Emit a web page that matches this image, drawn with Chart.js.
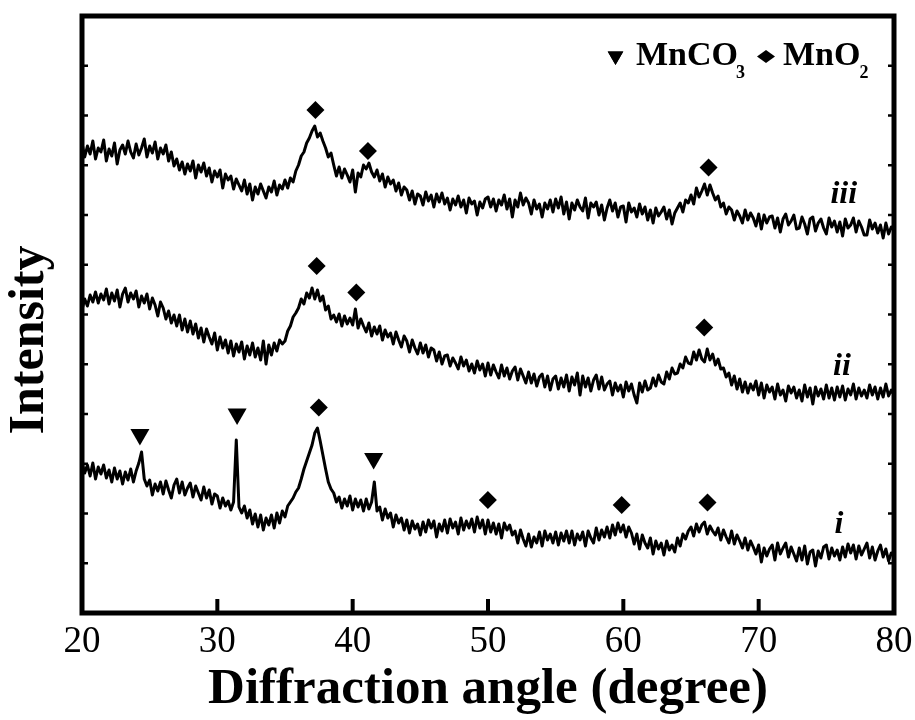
<!DOCTYPE html>
<html>
<head>
<meta charset="utf-8">
<script src="https://cdn.jsdelivr.net/npm/chart.js@4.4.1/dist/chart.umd.min.js"></script>
<style>
  html, body { margin: 0; padding: 0; background: #fff; }
  #wrap { width: 915px; height: 720px; }
</style>
</head>
<body>
<div id="wrap"><canvas id="xrd" width="915" height="720"></canvas></div>
<script>
// 2-theta sampling grid (degrees)
const angleStart = 20, angleStep = 0.2, angleCount = 301;
const angles = Array.from({ length: angleCount }, (_, k) => +(angleStart + k * angleStep).toFixed(1));

// sample i (bottom trace), one row per degree: .0 .2 .4 .6 .8
const intensityI = [
  302, 280, 296, 274, 300,   268, 292, 278, 296, 270,   286, 262, 290, 268, 284,   258, 282, 266, 288, 262,
  284, 300, 322, 268, 254,   266, 236, 258, 244, 262,   238, 264, 246, 230, 256,   268, 240, 262, 236, 250,
  260, 232, 254, 240, 226,   252, 230, 246, 218, 238,   234, 210, 230, 214, 224,   206, 222, 346, 212, 200,
  214, 190, 206, 178, 198,   172, 196, 166, 190, 176,   196, 170, 200, 180, 204,   192, 214, 222, 230, 242,
  250, 268, 288, 304, 320,   336, 360, 370, 344, 316,   288, 262, 248, 240, 222,   232, 210, 228, 214, 234,
  206, 228, 212, 226, 204,   228, 208, 222, 262, 204,   212, 186, 208, 190, 200,   172, 196, 180, 190, 166,
  186, 160, 184, 168, 178,   156, 182, 162, 186, 170,   184, 152, 178, 164, 186,   160, 188, 170, 182, 158,
  190, 166, 184, 170, 188,   162, 192, 170, 186, 158,   186, 162, 180, 158, 178,   150, 180, 166, 176, 156,
  164, 140, 166, 148, 134,   158, 132, 152, 140, 162,   134, 164, 146, 158, 140,   162, 136, 160, 144, 164,
  140, 164, 136, 158, 146,   162, 134, 164, 150, 140,   170, 146, 166, 152, 172,   150, 176, 156, 180, 162,
  176, 152, 172, 160, 138,   158, 128, 156, 140, 130,   150, 118, 144, 128, 140,   116, 144, 126, 136, 122,
  150, 134, 158, 148, 164,   172, 154, 178, 162, 176,   182, 158, 174, 164, 156,   170, 146, 166, 152, 140,
  164, 138, 156, 144, 130,   150, 126, 144, 132, 118,   136, 102, 130, 114, 128,   136, 106, 140, 118, 130,
  140, 112, 132, 118, 104,   130, 106, 134,  98, 122,   126,  94, 124, 110, 132,   136, 108, 130, 114, 126,
  106, 132, 112, 138, 120,   136, 108, 134, 116, 128,   140, 110, 132, 106, 124,   136, 112, 128, 104, 120,
  116
];

// sample ii (middle trace)
const intensityII = [
  606, 628, 614, 636, 622,   642, 620, 638, 626, 648,   618, 640, 624, 646, 612,   638, 650, 622, 640, 628,
  644, 612, 634, 620, 638,   608, 630, 616, 594, 622,   610, 588, 604, 580, 596,   574, 596, 566, 588, 562,
  584, 558, 578, 550, 570,   542, 568, 552, 538, 560,   526, 552, 530, 546, 520,   544, 514, 538, 522, 542,
  508, 534, 516, 540, 512,   530, 506, 544, 498, 536,   516, 540, 524, 546, 538,   544, 564, 574, 592, 600,
  610, 628, 618, 640, 630,   650, 628, 646, 624, 634,   606, 614, 588, 596, 582,   598, 574, 594, 578, 590,
  576, 608, 570, 588, 574,   562, 580, 554, 572, 558,   574, 546, 566, 552, 560,   538, 562, 546, 532, 554,
  544, 522, 546, 530, 518,   540, 520, 536, 512, 530,   526, 504, 522, 498, 514,   516, 494, 510, 500, 488,
  512, 494, 506, 484, 498,   480, 504, 486, 498, 474,   500, 476, 496, 482, 470,   496, 474, 490, 468, 484,
  492, 466, 488, 474, 460,   482, 460, 478, 454, 472,   478, 452, 474, 446, 468,   474, 448, 470, 452, 476,
  444, 472, 456, 480, 436,   474, 452, 470, 444, 466,   476, 448, 472, 446, 458,   464, 436, 460, 444, 456,
  432, 462, 444, 458, 436,   420, 460, 442, 464, 446,   450, 470, 454, 476, 462,   458, 482, 468, 490, 478,
  480, 498, 490, 512, 500,   498, 522, 506, 526, 508,   502, 528, 506, 518, 496,   508, 488, 490, 472, 480,
  456, 474, 448, 468, 442,   462, 440, 458, 446, 464,   436, 460, 430, 456, 442,   452, 428, 458, 436, 446,
  424, 454, 440, 452, 430,   446, 424, 456, 432, 450,   418, 452, 434, 448, 428,   456, 430, 450, 426, 452,
  432, 454, 426, 448, 436,   458, 428, 450, 434, 446,   430, 456, 436, 452, 428,   450, 432, 458, 434, 446,
  436
];

// sample iii (top trace)
const intensityIII = [
  940, 912, 934, 918, 944,   908, 930, 922, 946, 904,   928, 914, 940, 898, 926,   936, 918, 944, 922, 910,
  938, 916, 930, 948, 912,   934, 920, 942, 908, 930,   918, 936, 904, 922, 894,   908, 886, 902, 878, 898,
  884, 904, 870, 896, 882,   900, 874, 890, 862, 884,   872, 886, 850, 878, 866,   874, 848, 868, 856, 844,
  866, 838, 858, 826, 852,   838, 858, 844, 830, 852,   842, 864, 836, 856, 848,   866, 850, 870, 862, 884,
  896, 914, 922, 940, 950,   964, 974, 952, 960, 944,   930, 912, 920, 896, 874,   892, 870, 888, 876, 862,
  886, 842, 880, 872, 896,   888, 900, 882, 872, 886,   864, 878, 852, 872, 858,   866, 844, 860, 836, 852,
  846, 826, 844, 818, 838,   834, 816, 842, 824, 836,   812, 838, 822, 840, 818,   830, 806, 828, 816, 834,
  812, 826, 800, 830, 818,   824, 796, 822, 810, 828,   832, 812, 828, 804, 826,   816, 836, 808, 828, 792,
  826, 812, 840, 816, 830,   820, 798, 826, 808, 818,   792, 820, 808, 826, 802,   828, 810, 832, 798, 822,
  788, 820, 806, 826, 812,   804, 830, 790, 820, 812,   822, 796, 816, 786, 810,   826, 804, 820, 792, 812,
  814, 782, 820, 802, 810,   792, 818, 798, 812, 786,   806, 780, 810, 794, 802,   812, 788, 806, 778, 800,
  810, 820, 802, 826, 820,   836, 818, 850, 832, 844,   858, 836, 856, 840, 826,   834, 812, 820, 798, 812,
  806, 786, 804, 794, 780,   806, 786, 800, 790, 774,   798, 768, 796, 780, 792,   794, 770, 790, 762, 788,
  798, 776, 784, 796, 768,   770, 792, 778, 758, 788,   792, 764, 780, 788, 770,   758, 790, 772, 784, 762,
  782, 754, 788, 770, 776,   790, 762, 784, 772, 756,   756, 786, 768, 780, 760,   776, 750, 780, 758, 772,
  766
];

// peak markers (angle, intensity)
const mno2Angles   = [37.25, 41.13, 66.30, 37.34, 40.27, 65.98, 37.50, 49.99, 59.88, 66.22];
const mno2Heights  = [1006, 924, 891, 694, 641, 571, 411, 226, 216, 221];
const mnco3Angles  = [24.28, 31.46, 41.55];
const mnco3Heights = [357, 398, 309];

const xTicks = [20, 30, 40, 50, 60, 70, 80];
const SERIF = '"Liberation Serif", "Times New Roman", serif';

const toPts = (xs, ys) => xs.map((a, k) => ({ x: a, y: ys[k] }));

const frame = {
  id: 'frame',
  afterDraw(chart) {
    const { ctx, chartArea: a, scales: { x, y } } = chart;
    ctx.save();
    ctx.strokeStyle = '#000';
    ctx.fillStyle = '#000';
    // inward major ticks on the bottom axis
    ctx.lineWidth = 4;
    x.ticks.forEach(t => {
      const px = x.getPixelForValue(t.value);
      if (px <= a.left + 4 || px >= a.right - 4) return;
      ctx.beginPath(); ctx.moveTo(px, a.bottom); ctx.lineTo(px, a.bottom - 14); ctx.stroke();
    });
    // small ticks on left and right axes
    ctx.lineWidth = 2.5;
    y.ticks.forEach(t => {
      const py = y.getPixelForValue(t.value);
      if (py >= a.bottom - 4 || py <= a.top + 4) return;
      ctx.beginPath(); ctx.moveTo(a.left, py); ctx.lineTo(a.left + 6, py); ctx.stroke();
      ctx.beginPath(); ctx.moveTo(a.right, py); ctx.lineTo(a.right - 6, py); ctx.stroke();
    });
    // box
    ctx.lineWidth = 5;
    ctx.strokeRect(a.left, a.top, a.right - a.left, a.bottom - a.top);

    // y title
    ctx.save();
    ctx.translate(30, 340);
    ctx.rotate(-Math.PI / 2);
    ctx.font = 'bold 50px ' + SERIF;
    ctx.textAlign = 'center';
    ctx.textBaseline = 'middle';
    ctx.fillText('Intensity', 0, 0);
    ctx.restore();

    // sample labels
    ctx.font = 'italic bold 32px ' + SERIF;
    ctx.textAlign = 'left';
    ctx.textBaseline = 'alphabetic';
    ctx.fillText('iii', x.getPixelForValue(75.3), y.getPixelForValue(820));
    ctx.fillText('ii', x.getPixelForValue(75.5), y.getPixelForValue(476));
    ctx.fillText('i', x.getPixelForValue(75.6), y.getPixelForValue(160));

    // legend
    Chart.helpers.drawPoint(ctx, { pointStyle: 'triangle', radius: 9, rotation: 180, borderWidth: 0 }, 615.5, 56);
    ctx.fill();
    ctx.font = 'bold 34px ' + SERIF;
    ctx.fillText('MnCO', 636, 65);
    let w = ctx.measureText('MnCO').width;
    ctx.font = 'bold 18px ' + SERIF;
    ctx.fillText('3', 636 + w - 2, 78);
    ctx.beginPath();
    ctx.moveTo(757, 56.5); ctx.lineTo(766, 50); ctx.lineTo(775, 56.5); ctx.lineTo(766, 63);
    ctx.closePath(); ctx.fill();
    ctx.font = 'bold 34px ' + SERIF;
    ctx.fillText('MnO', 783, 65);
    w = ctx.measureText('MnO').width;
    ctx.font = 'bold 18px ' + SERIF;
    ctx.fillText('2', 783 + w - 1, 78);
    ctx.restore();
  }
};

const lineStyle = { borderColor: '#000', borderWidth: 3, pointRadius: 0, tension: 0, fill: false, borderJoinStyle: 'round' };

new Chart(document.getElementById('xrd'), {
  type: 'line',
  data: {
    datasets: [
      { label: 'i', data: toPts(angles, intensityI), ...lineStyle },
      { label: 'ii', data: toPts(angles, intensityII), ...lineStyle },
      { label: 'iii', data: toPts(angles, intensityIII), ...lineStyle },
      { label: 'MnO2', type: 'scatter', data: toPts(mno2Angles, mno2Heights), pointStyle: 'rectRot', pointRadius: 9, backgroundColor: '#000', borderWidth: 0, showLine: false },
      { label: 'MnCO3', type: 'scatter', data: toPts(mnco3Angles, mnco3Heights), pointStyle: 'triangle', pointRotation: 180, pointRadius: 11, backgroundColor: '#000', borderWidth: 0, showLine: false }
    ]
  },
  options: {
    responsive: false,
    animation: false,
    events: [],
    layout: { padding: { top: 16, right: 21, left: 0, bottom: 0 } },
    plugins: { legend: { display: false }, tooltip: { enabled: false } },
    scales: {
      x: {
        type: 'linear', min: 20, max: 80,
        afterBuildTicks: s => { s.ticks = xTicks.map(v => ({ value: v })); },
        afterFit: s => { s.height = 107; s.paddingLeft = 0; s.paddingRight = 0; },
        grid: { display: false, drawTicks: false },
        border: { display: false },
        ticks: { color: '#000', padding: 7, font: { family: SERIF, size: 37 } },
        title: { display: true, text: 'Diffraction angle (degree)', color: '#000', padding: 0, font: { family: SERIF, size: 51, weight: 'bold' } }
      },
      y: {
        min: 0, max: 1194,
        ticks: { display: false, stepSize: 100 },
        afterFit: s => { s.width = 82; },
        grid: { display: false, drawTicks: false },
        border: { display: false }
      }
    }
  },
  plugins: [frame]
});
</script>
</body>
</html>
